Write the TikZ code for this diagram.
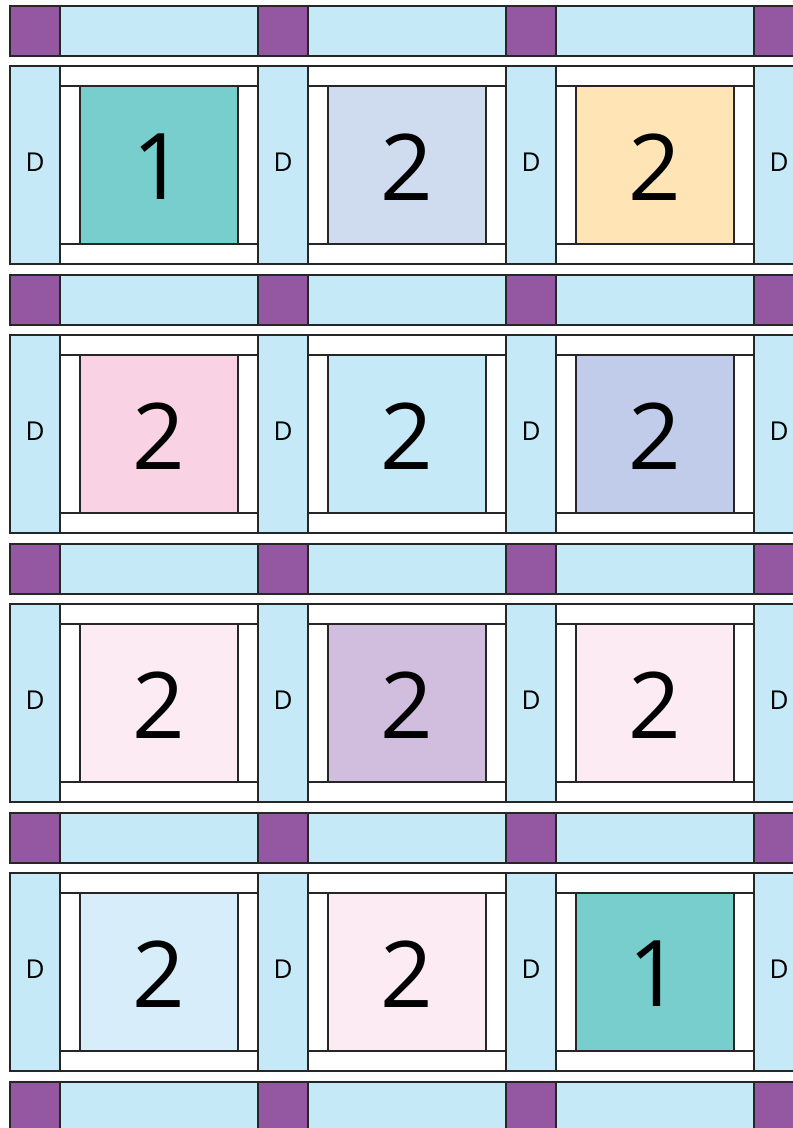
\documentclass[tikz,border=0pt]{standalone}
\usepackage{fontspec}
\setmainfont{Open Sans}
\definecolor{purp}{HTML}{9458A2}
\definecolor{sash}{HTML}{C6E9F8}
\definecolor{cteal}{HTML}{78CDCD}
\definecolor{clav}{HTML}{CFDBEF}
\definecolor{cpeach}{HTML}{FFE5B5}
\definecolor{cpink}{HTML}{F9D3E4}
\definecolor{cblue}{HTML}{C6E9F8}
\definecolor{cperi}{HTML}{C1CCEA}
\definecolor{clpink}{HTML}{FCEBF3}
\definecolor{cmauve}{HTML}{D1BDDE}
\definecolor{cpale}{HTML}{D7EEFA}
\tikzset{
  piece/.style={draw=black!85, line width=1.2pt, line join=miter},
  dlabel/.style={font=\fontsize{26}{26}\selectfont, inner sep=0pt},
  numlabel/.style={font=\fontsize{92}{92}\selectfont, inner sep=0pt},
}
\begin{document}
\begin{tikzpicture}[x=1pt,y=-1pt]
\useasboundingbox (0,0) rectangle (793,1128);
\clip (0,0) rectangle (793,1128);
% sashing rows
\foreach \k in {0,...,4}{
  \pgfmathsetmacro{\yy}{6+269*\k}
  \foreach \j in {0,...,3}{
    \pgfmathsetmacro{\xx}{10+248*\j}
    \draw[piece, fill=purp] (\xx,\yy) rectangle ++(50,50);
  }
  \foreach \j in {0,...,2}{
    \pgfmathsetmacro{\xx}{60+248*\j}
    \draw[piece, fill=sash] (\xx,\yy) rectangle ++(198,50);
  }
}
% block rows
\foreach \r/\ca/\na/\cb/\nb/\cc/\nc in {0/cteal/1/clav/2/cpeach/2, 1/cpink/2/cblue/2/cperi/2, 2/clpink/2/cmauve/2/clpink/2, 3/cpale/2/clpink/2/cteal/1}{
  \pgfmathsetmacro{\yy}{66+269*\r}
  \foreach \j in {0,...,3}{
    \pgfmathsetmacro{\xx}{10+248*\j}
    \draw[piece, fill=sash] (\xx,\yy) rectangle ++(50,198);
    \node[dlabel] (d\r\j) at (\xx+25,\yy+96.5) {D};
  }
  \foreach \j/\cl/\nm in {0/\ca/\na, 1/\cb/\nb, 2/\cc/\nc}{
    \pgfmathsetmacro{\xx}{60+248*\j}
    \draw[piece, fill=white] (\xx,\yy) rectangle ++(198,198);
    \draw[piece] (\xx,\yy+20) -- ++(198,0);
    \draw[piece] (\xx,\yy+178) -- ++(198,0);
    \draw[piece, fill=\cl] (\xx+20,\yy+20) rectangle ++(158,158);
    \node[numlabel] (n\r\j) at (\xx+99,\yy+101) {\nm};
  }
}
\end{tikzpicture}
\end{document}
